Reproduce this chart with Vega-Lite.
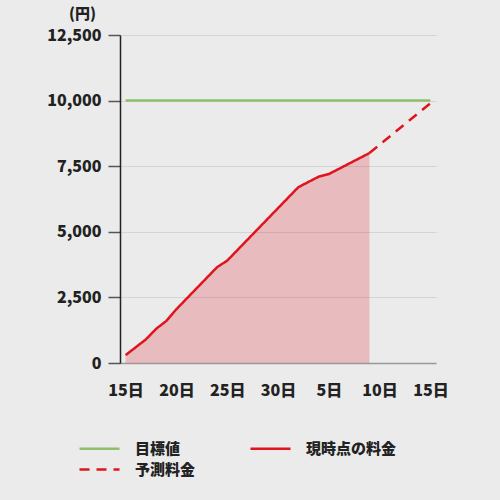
{
  "$schema": "https://vega.github.io/schema/vega-lite/v6.json",
  "width": 316,
  "height": 328,
  "autosize": {"type": "none"},
  "padding": {"left": 120, "top": 35, "right": 64, "bottom": 137},
  "background": "#ebebeb",
  "config": {
    "view": {"stroke": null},
    "font": "Noto Sans CJK JP",
    "legend": {
      "orient": "none",
      "direction": "horizontal",
      "legendX": -42,
      "legendY": 402,
      "columns": 2,
      "symbolType": "M-1,0H3",
      "symbolSize": 400,
      "symbolStrokeWidth": 2.5,
      "labelFontSize": 15,
      "labelFontWeight": 900,
      "labelColor": "#222222",
      "labelOffset": 34,
      "columnPadding": 49,
      "rowPadding": 1
    }
  },
  "data": {
    "values": [
      {"day": 0, "value": 10000, "series": "目標値"},
      {"day": 30, "value": 10000, "series": "目標値"},
      {"day": 0, "value": 300, "series": "現時点の料金"},
      {"day": 1, "value": 600, "series": "現時点の料金"},
      {"day": 2, "value": 900, "series": "現時点の料金"},
      {"day": 3, "value": 1300, "series": "現時点の料金"},
      {"day": 4, "value": 1600, "series": "現時点の料金"},
      {"day": 5, "value": 2050, "series": "現時点の料金"},
      {"day": 6, "value": 2450, "series": "現時点の料金"},
      {"day": 7, "value": 2850, "series": "現時点の料金"},
      {"day": 8, "value": 3250, "series": "現時点の料金"},
      {"day": 9, "value": 3650, "series": "現時点の料金"},
      {"day": 10, "value": 3900, "series": "現時点の料金"},
      {"day": 11, "value": 4300, "series": "現時点の料金"},
      {"day": 12, "value": 4700, "series": "現時点の料金"},
      {"day": 13, "value": 5100, "series": "現時点の料金"},
      {"day": 14, "value": 5500, "series": "現時点の料金"},
      {"day": 15, "value": 5900, "series": "現時点の料金"},
      {"day": 16, "value": 6300, "series": "現時点の料金"},
      {"day": 17, "value": 6700, "series": "現時点の料金"},
      {"day": 18, "value": 6900, "series": "現時点の料金"},
      {"day": 19, "value": 7100, "series": "現時点の料金"},
      {"day": 20, "value": 7200, "series": "現時点の料金"},
      {"day": 21, "value": 7400, "series": "現時点の料金"},
      {"day": 22, "value": 7600, "series": "現時点の料金"},
      {"day": 23, "value": 7800, "series": "現時点の料金"},
      {"day": 24, "value": 8000, "series": "現時点の料金"},
      {"day": 24, "value": 8000, "series": "予測料金"},
      {"day": 30, "value": 9900, "series": "予測料金"}
    ]
  },
  "encoding": {
    "x": {
      "field": "day",
      "type": "quantitative",
      "scale": {"domain": [-0.55, 30.55], "nice": false, "zero": false},
      "axis": {
        "title": null,
        "values": [0, 5, 10, 15, 20, 25, 30],
        "labelExpr": "['15日','20日','25日','30日','5日','10日','15日'][datum.value / 5]",
        "labelFontSize": 16,
        "labelFontWeight": 900,
        "labelColor": "#222222",
        "labelPadding": 19,
        "ticks": false,
        "grid": false,
        "domainColor": "#999999",
        "domainWidth": 1.5
      }
    },
    "y": {
      "field": "value",
      "type": "quantitative",
      "scale": {"domain": [0, 12500], "nice": false},
      "axis": {
        "values": [0, 2500, 5000, 7500, 10000, 12500],
        "format": ",.0f",
        "title": "(円)",
        "titleAngle": 0,
        "titleX": -38,
        "titleY": -22,
        "titleAlign": "center",
        "titleBaseline": "middle",
        "titleFontSize": 15,
        "titleFontWeight": 900,
        "titleColor": "#222222",
        "labelFontSize": 16,
        "labelFontWeight": 900,
        "labelColor": "#222222",
        "labelPadding": 7,
        "tickSize": 12,
        "tickColor": "#555555",
        "tickWidth": 1.5,
        "domainColor": "#222222",
        "domainWidth": 1.5,
        "gridColor": "#d4d4d4",
        "gridWidth": 1.2
      }
    }
  },
  "layer": [
    {
      "transform": [{"filter": "datum.series === '現時点の料金'"}],
      "mark": {"type": "area", "color": "#e0141e", "opacity": 0.22}
    },
    {
      "mark": {"type": "line", "strokeWidth": 2.5},
      "encoding": {
        "color": {
          "field": "series",
          "type": "nominal",
          "sort": ["目標値", "現時点の料金", "予測料金"],
          "scale": {
            "domain": ["目標値", "現時点の料金", "予測料金"],
            "range": ["#8cc06a", "#e0141e", "#e0141e"]
          },
          "legend": {"title": null}
        },
        "strokeDash": {
          "field": "series",
          "type": "nominal",
          "sort": ["目標値", "現時点の料金", "予測料金"],
          "scale": {
            "domain": ["目標値", "現時点の料金", "予測料金"],
            "range": [[1, 0], [1, 0], [10, 7]]
          },
          "legend": {"title": null}
        }
      }
    }
  ]
}
